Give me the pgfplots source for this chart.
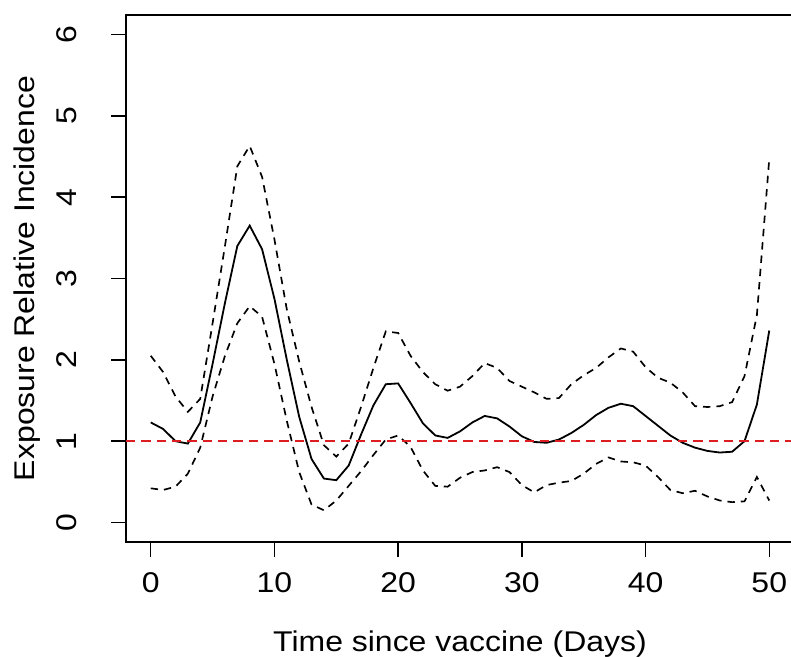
\documentclass[border=0pt]{standalone}
\usepackage{pgfplots}
\usepackage{pgfplotstable}
\pgfplotsset{compat=1.18}
\usepackage{fontspec}
\setmainfont{Liberation Sans}[FakeStretch=1.12]
\definecolor{rline}{RGB}{220,30,35}
\pgfplotstableread{
day est lo hi
0 1.23 0.42 2.05
1 1.15 0.40 1.85
2 1.00 0.44 1.55
3 0.97 0.60 1.36
4 1.23 0.92 1.52
5 1.95 1.55 2.45
6 2.70 2.05 3.40
7 3.40 2.45 4.38
8 3.65 2.66 4.63
9 3.36 2.53 4.25
10 2.75 1.95 3.48
11 2.00 1.25 2.62
12 1.30 0.62 1.98
13 0.78 0.22 1.42
14 0.54 0.15 0.95
15 0.52 0.27 0.81
16 0.70 0.45 0.97
17 1.08 0.63 1.42
18 1.44 0.83 1.90
19 1.70 1.02 2.35
20 1.71 1.07 2.33
21 1.47 0.93 2.05
22 1.22 0.64 1.85
23 1.07 0.45 1.70
24 1.04 0.44 1.62
25 1.12 0.55 1.67
26 1.23 0.62 1.80
27 1.31 0.64 1.96
28 1.28 0.68 1.90
29 1.18 0.62 1.74
30 1.06 0.46 1.67
31 0.99 0.37 1.60
32 0.98 0.46 1.52
33 1.02 0.49 1.53
34 1.10 0.51 1.70
35 1.20 0.60 1.81
36 1.32 0.72 1.90
37 1.41 0.80 2.03
38 1.46 0.75 2.14
39 1.43 0.74 2.10
40 1.31 0.70 1.91
41 1.19 0.56 1.78
42 1.07 0.40 1.72
43 0.98 0.36 1.60
44 0.92 0.39 1.43
45 0.88 0.32 1.42
46 0.86 0.27 1.43
47 0.87 0.25 1.48
48 1.00 0.26 1.80
49 1.45 0.56 2.55
50 2.36 0.27 4.47
}\datatable
\begin{document}
\begin{tikzpicture}
\begin{axis}[
  scale only axis, width=501pt, height=395.25pt,
  xmin=-2, xmax=52, ymin=-0.24, ymax=6.24,
  xtick={0,10,20,30,40,50}, ytick={0,1,2,3,4,5,6},
  tick align=outside, major tick length=11.25pt,
  xtick pos=bottom, ytick pos=left,
  axis line style={line width=1.1pt, black},
  tick style={line width=1.1pt, black},
  /pgf/number format/assume math mode=true,
  ticklabel style={font=\fontsize{21.4}{24}\selectfont},
  xticklabel style={anchor=north, inner sep=0pt},
  yticklabel style={rotate=90, anchor=south, inner sep=0pt},
  xticklabel shift=11.25pt, yticklabel shift=25.5pt,
  label style={font=\fontsize{21.4}{24}\selectfont},
  xlabel={Time since vaccine (Days)},
  xlabel style={at={(axis description cs:0.5,-0.168)}, anchor=north, inner sep=0pt},
  ylabel={Exposure Relative Incidence},
  ylabel style={at={(axis description cs:-0.169,0.5)}, anchor=north, inner sep=0pt},
]
\addplot[black, line width=1.35pt] table[x=day, y=est] {\datatable};
\addplot[black, line width=1.25pt, dash pattern=on 5.5pt off 4.5pt] table[x=day, y=hi] {\datatable};
\addplot[black, line width=1.25pt, dash pattern=on 5.5pt off 4.5pt] table[x=day, y=lo] {\datatable};
\addplot[rline, line width=1.1pt, dash pattern=on 7pt off 4.5pt] coordinates {(-2,1) (52,1)};
\end{axis}
\pgfresetboundingbox
\path[use as bounding box] ([xshift=-94.5pt,yshift=-85.5pt]current axis.south west) rectangle ([xshift=-2.25pt,yshift=11.25pt]current axis.north east);
\end{tikzpicture}
\end{document}
